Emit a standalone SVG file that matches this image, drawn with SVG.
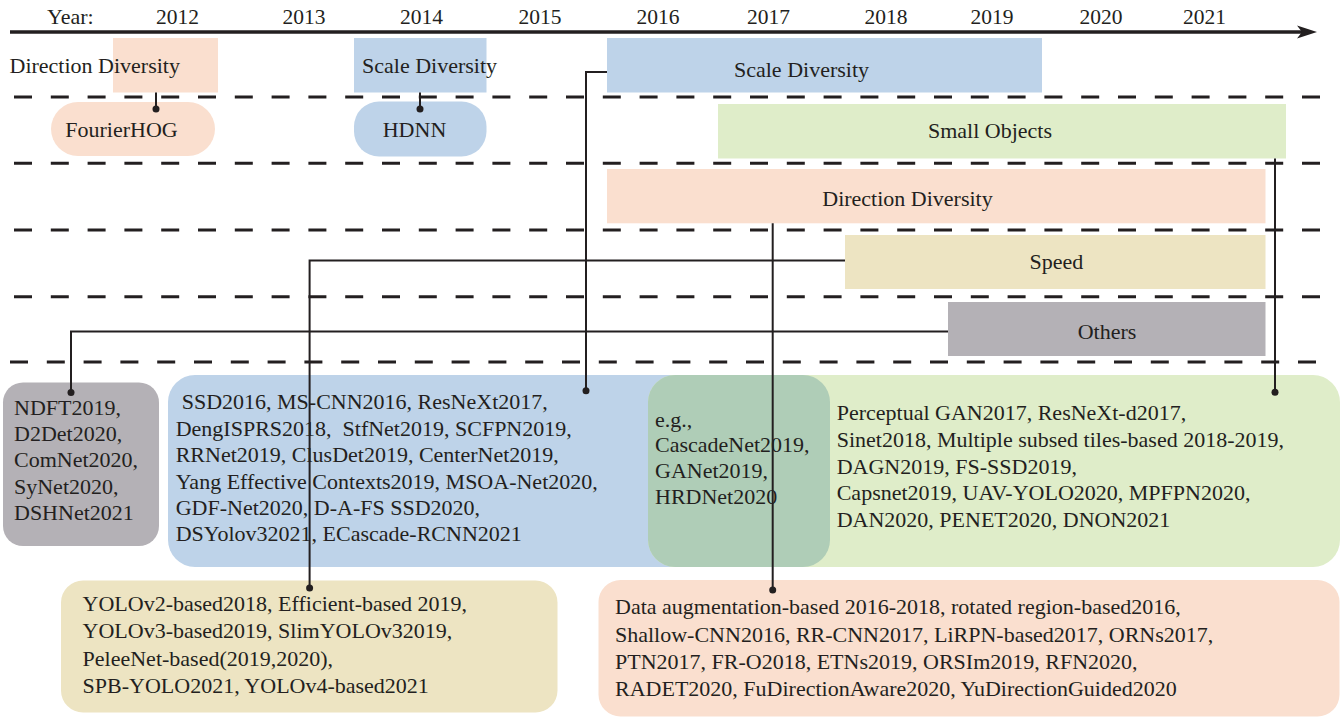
<svg xmlns="http://www.w3.org/2000/svg" width="1344" height="719" viewBox="0 0 1344 719">
<style>
text{font-family:"Liberation Serif","Times New Roman",serif;font-size:22px;fill:#231f20}
.yr{font-size:21.5px;text-anchor:middle}
.c{text-anchor:middle}
.dash{stroke:#231f20;stroke-width:3;stroke-dasharray:18 18.8;fill:none}
.con{stroke:#231f20;stroke-width:2;fill:none}
.peach{fill:#FADFCF}.blue{fill:#BED3E9}.green{fill:#DFEDC9}.yellow{fill:#EDE4C2}.gray{fill:#B4B1B6}
</style>
<defs>
<clipPath id="clipGreen"><rect x="648" y="375" width="692" height="192" rx="27"/></clipPath>
</defs>
<rect width="1344" height="719" fill="#ffffff"/>
<g id="timeline">
<line x1="10" y1="32" x2="1304" y2="32" stroke="#231f20" stroke-width="3.5"/>
<polygon points="1297,25.5 1317,32 1297,38.5 1302,32" fill="#231f20"/>
<text x="47" y="23.5">Year:</text>
<text class="yr" x="177.5" y="23.5">2012</text>
<text class="yr" x="304" y="23.5">2013</text>
<text class="yr" x="421.5" y="23.5">2014</text>
<text class="yr" x="540" y="23.5">2015</text>
<text class="yr" x="658" y="23.5">2016</text>
<text class="yr" x="768.5" y="23.5">2017</text>
<text class="yr" x="886" y="23.5">2018</text>
<text class="yr" x="992" y="23.5">2019</text>
<text class="yr" x="1101" y="23.5">2020</text>
<text class="yr" x="1204.5" y="23.5">2021</text>
</g>
<g id="separators">
<line class="dash" x1="14" y1="97" x2="1322" y2="97"/>
<line class="dash" x1="14" y1="163.3" x2="1322" y2="163.3"/>
<line class="dash" x1="14" y1="230" x2="1322" y2="230"/>
<line class="dash" x1="14" y1="296.7" x2="1322" y2="296.7"/>
<line class="dash" x1="10" y1="362" x2="1322" y2="362"/>
</g>
<g id="early-direction">
<rect class="peach" x="113" y="38" width="105" height="54.5"/>
<text x="9.5" y="73.3">Direction Diversity</text>
</g>
<g id="early-scale">
<rect class="blue" x="354" y="38" width="132.5" height="54.5"/>
<text x="362" y="73.3">Scale Diversity</text>
</g>
<g id="fourierhog">
<rect class="peach" x="51" y="102" width="164" height="54" rx="27"/>
<text class="c" x="121.5" y="136.7">FourierHOG</text>
</g>
<g id="hdnn">
<rect class="blue" x="354" y="101.5" width="132.5" height="55" rx="25"/>
<text class="c" x="414.5" y="136.7">HDNN</text>
</g>
<g id="scale-diversity">
<rect class="blue" x="607" y="38" width="435" height="54.5"/>
<text class="c" x="801.5" y="77.3">Scale Diversity</text>
</g>
<g id="small-objects">
<rect class="green" x="718" y="104" width="568" height="54.5"/>
<text class="c" x="990" y="137.7">Small Objects</text>
</g>
<g id="direction-diversity">
<rect class="peach" x="607" y="169" width="658.5" height="54.3"/>
<text class="c" x="907.5" y="205.7">Direction Diversity</text>
</g>
<g id="speed">
<rect class="yellow" x="845" y="235" width="420.5" height="54"/>
<text class="c" x="1056.5" y="268.5">Speed</text>
</g>
<g id="others">
<rect class="gray" x="948" y="302" width="317.5" height="54"/>
<text class="c" x="1107" y="339">Others</text>
</g>
<g id="others-methods">
<rect class="gray" x="3" y="382.5" width="156" height="163.5" rx="20"/>
<text x="14" y="415">NDFT2019,</text>
<text x="14" y="441.2">D2Det2020,</text>
<text x="14" y="467.4">ComNet2020,</text>
<text x="14" y="493.6">SyNet2020,</text>
<text x="14" y="519.8">DSHNet2021</text>
</g>
<g id="scale-methods">
<rect class="blue" x="168" y="375" width="662" height="192" rx="27"/>
<text x="181.7" y="409.3">SSD2016, MS-CNN2016, ResNeXt2017,</text>
<text x="175.7" y="435.7" style="white-space:pre">DengISPRS2018,  StfNet2019, SCFPN2019,</text>
<text x="175.7" y="462.1">RRNet2019, ClusDet2019, CenterNet2019,</text>
<text x="175.7" y="488.5">Yang Effective Contexts2019, MSOA-Net2020,</text>
<text x="175.7" y="514.9">GDF-Net2020, D-A-FS SSD2020,</text>
<text x="175.7" y="541.3">DSYolov32021, ECascade-RCNN2021</text>
</g>
<g id="small-methods">
<rect class="green" x="648" y="375" width="692" height="192" rx="27"/>
<text x="836.7" y="419.5">Perceptual GAN2017, ResNeXt-d2017,</text>
<text x="836.7" y="446.5">Sinet2018, Multiple subsed tiles-based 2018-2019,</text>
<text x="836.7" y="473.5">DAGN2019, FS-SSD2019,</text>
<text x="836.7" y="500.3">Capsnet2019, UAV-YOLO2020, MPFPN2020,</text>
<text x="836.7" y="527">DAN2020, PENET2020, DNON2021</text>
</g>
<g id="shared-methods">
<rect x="168" y="375" width="662" height="192" rx="27" fill="#AFCDB7" clip-path="url(#clipGreen)"/>
<text x="655" y="426.7">e.g.,</text>
<text x="655" y="452.2">CascadeNet2019,</text>
<text x="655" y="478">GANet2019,</text>
<text x="655" y="504">HRDNet2020</text>
</g>
<g id="speed-methods">
<rect class="yellow" x="61" y="580.5" width="496.5" height="132" rx="22"/>
<text x="82.6" y="610.7">YOLOv2-based2018, Efficient-based 2019,</text>
<text x="82.6" y="638.3">YOLOv3-based2019, SlimYOLOv32019,</text>
<text x="82.6" y="666">PeleeNet-based(2019,2020),</text>
<text x="82.6" y="693.3">SPB-YOLO2021, YOLOv4-based2021</text>
</g>
<g id="direction-methods">
<rect class="peach" x="598.5" y="580" width="741" height="136.5" rx="22"/>
<text x="615" y="614">Data augmentation-based 2016-2018, rotated region-based2016,</text>
<text x="615" y="641.5">Shallow-CNN2016, RR-CNN2017, LiRPN-based2017, ORNs2017,</text>
<text x="615" y="668.8">PTN2017, FR-O2018, ETNs2019, ORSIm2019, RFN2020,</text>
<text x="615" y="696">RADET2020, FuDirectionAware2020, YuDirectionGuided2020</text>
</g>
<g id="connectors">
<path class="con" d="M156,92.5 V109"/>
<circle cx="156" cy="109" r="3.5" fill="#231f20"/>
<path class="con" d="M420,92.5 V109"/>
<circle cx="420" cy="109" r="3.5" fill="#231f20"/>
<path class="con" d="M607,72 H586 V390.7"/>
<circle cx="586" cy="390.7" r="3.5" fill="#231f20"/>
<path class="con" d="M1275,158.5 V392.3"/>
<circle cx="1275" cy="392.3" r="3.5" fill="#231f20"/>
<path class="con" d="M772.7,223.3 V590"/>
<circle cx="772.7" cy="590" r="3.5" fill="#231f20"/>
<path class="con" d="M845,260.5 H309.6 V588"/>
<circle cx="309.6" cy="588" r="3.5" fill="#231f20"/>
<path class="con" d="M948,331.5 H71 V392.5"/>
<circle cx="71" cy="392.5" r="3.5" fill="#231f20"/>
</g>
</svg>
